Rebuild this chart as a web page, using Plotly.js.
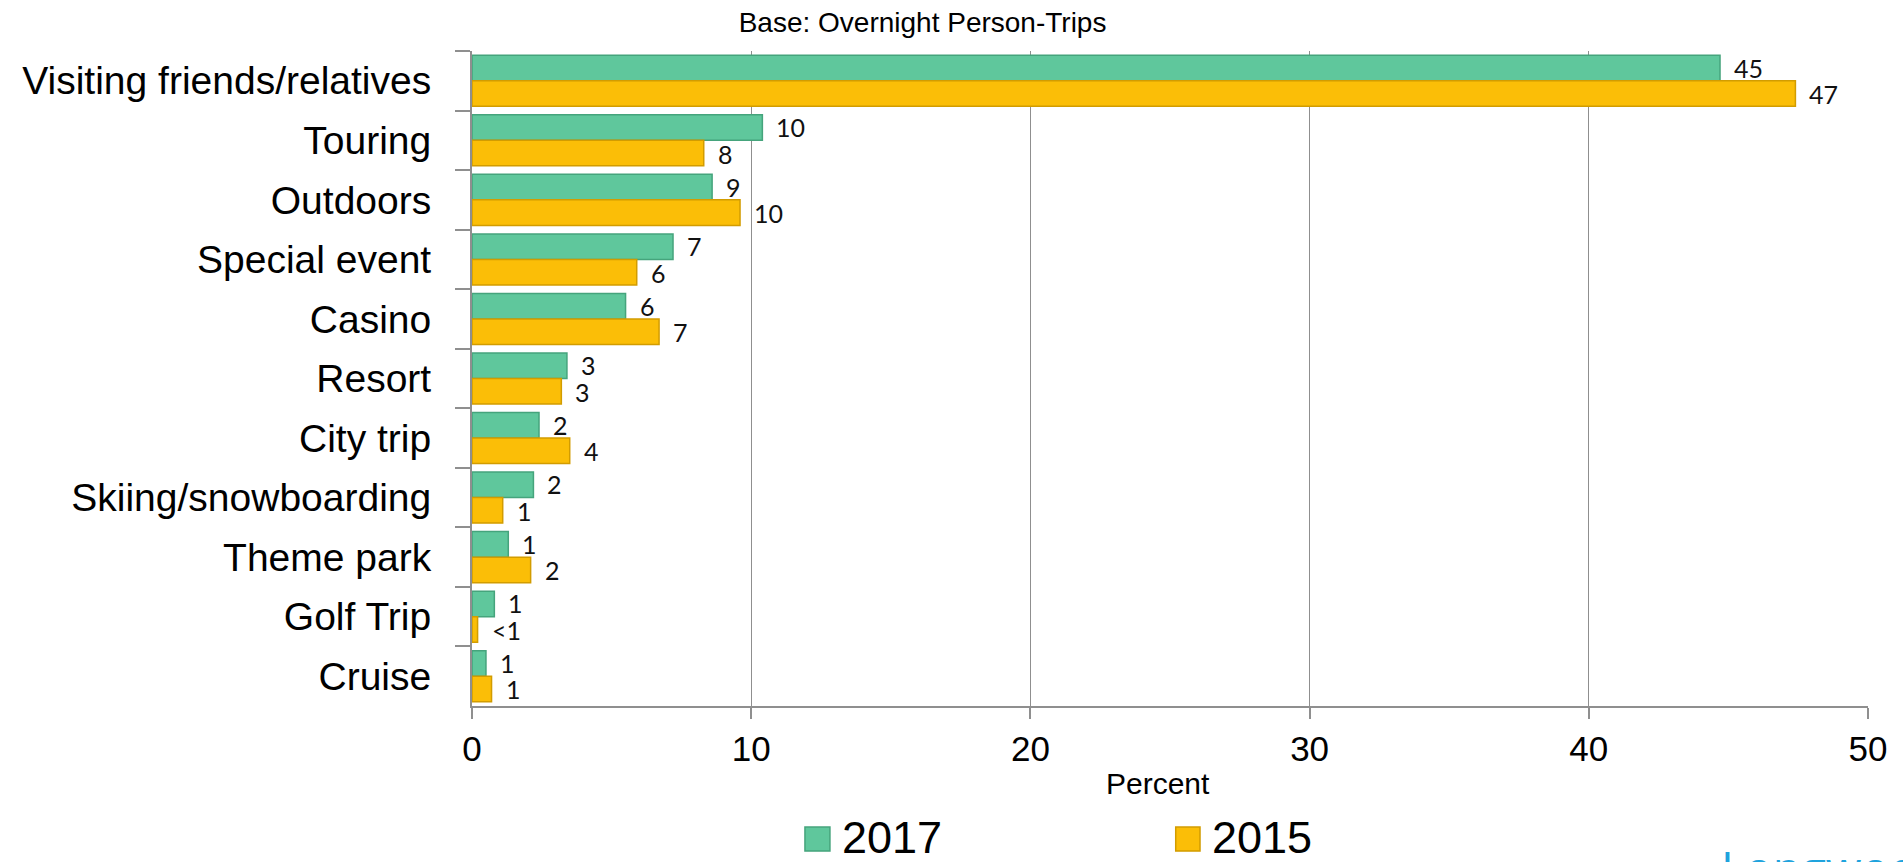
<!DOCTYPE html>
<html>
<head>
<meta charset="utf-8">
<script src="https://cdn.plot.ly/plotly-3.0.1.min.js"></script>
<style>
  html, body { margin: 0; padding: 0; background: #ffffff; }
  #chart { width: 1903px; height: 862px; }
</style>
</head>
<body>
<div id="chart"></div>
<script>
// ---- Data ----
var categories = [
  "Visiting friends/relatives", "Touring", "Outdoors", "Special event", "Casino",
  "Resort", "City trip", "Skiing/snowboarding", "Theme park", "Golf Trip", "Cruise"
];
var values2017 = [44.7, 10.4, 8.6, 7.2, 5.5, 3.4, 2.4, 2.2, 1.3, 0.8, 0.5];
var values2015 = [47.4, 8.3, 9.6, 5.9, 6.7, 3.2, 3.5, 1.1, 2.1, 0.2, 0.7];
var labels2017 = ["45", "10", "9", "7", "6", "3", "2", "2", "1", "1", "1"];
var labels2015 = ["47", "8", "10", "6", "7", "3", "4", "1", "2", "<1", "1"];
var seriesNames = ["2017", "2015"];
var xTicks = [0, 10, 20, 30, 40, 50];

var greenFill = "#5fc79c", greenEdge = "#45a47c";
var yellowFill = "#fbbe07", yellowEdge = "#d29c00";
var gridGray = "#8f8f8f";
var textFont = "Liberation Sans, Arial, sans-serif";
var labelFont = "Lato, Open Sans, sans-serif";

var traces = [
  {
    type: "bar", orientation: "h", name: seriesNames[0],
    y: categories, x: values2017,
    marker: { color: greenFill, line: { color: greenEdge, width: 1.5 } },
    showlegend: false, hoverinfo: "x+y"
  },
  {
    type: "bar", orientation: "h", name: seriesNames[1],
    y: categories, x: values2015,
    marker: { color: yellowFill, line: { color: yellowEdge, width: 1.5 } },
    showlegend: false, hoverinfo: "x+y"
  }
];

// Data labels placed just beyond each bar end
var annotations = [];
var barShift = 13.2;
for (var i = 0; i < categories.length; i++) {
  annotations.push({
    x: values2017[i], y: categories[i], xref: "x", yref: "y",
    text: labels2017[i], showarrow: false, xanchor: "left", yanchor: "middle",
    xshift: 13, yshift: barShift, borderpad: 0,
    font: { family: labelFont, size: 25, color: "#111111" }
  });
  annotations.push({
    x: values2015[i], y: categories[i], xref: "x", yref: "y",
    text: labels2015[i], showarrow: false, xanchor: "left", yanchor: "middle",
    xshift: 13, yshift: -barShift, borderpad: 0,
    font: { family: labelFont, size: 25, color: "#111111" }
  });
}

// Axis title placed as in the reference (slightly left of centre)
annotations.push({
  xref: "paper", yref: "paper", x: 0.4914, y: -0.118,
  xanchor: "center", yanchor: "middle", showarrow: false,
  text: "Percent", font: { family: textFont, size: 30, color: "#000000" }
});

// Custom legend (large swatches)
var legendItems = [
  { name: seriesNames[0], fill: greenFill, edge: greenEdge, x0: 0.2385, x1: 0.2564, tx: 0.2636 },
  { name: seriesNames[1], fill: yellowFill, edge: yellowEdge, x0: 0.5041, x1: 0.5215, tx: 0.5287 }
];
var shapes = [];
legendItems.forEach(function (it) {
  shapes.push({
    type: "rect", xref: "paper", yref: "paper",
    x0: it.x0, x1: it.x1, y0: -0.2215, y1: -0.1848,
    fillcolor: it.fill, line: { color: it.edge, width: 1.5 }
  });
  annotations.push({
    xref: "paper", yref: "paper", x: it.tx, y: -0.201,
    xanchor: "left", yanchor: "middle", showarrow: false,
    text: it.name, font: { family: textFont, size: 45, color: "#000000" }
  });
});

// Partially visible logo text at the bottom right
annotations.push({
  xref: "paper", yref: "paper", x: 0.893, y: -0.196,
  xanchor: "left", yanchor: "top", showarrow: false,
  text: "Longwoods", font: { family: "Open Sans, sans-serif", size: 46, color: "#1fa3dd" }
});

var layout = {
  width: 1903, height: 862,
  paper_bgcolor: "#ffffff", plot_bgcolor: "#ffffff",
  margin: { l: 472, r: 35, t: 51, b: 156 },
  barmode: "group", bargap: 0.143, bargroupgap: 0,
  showlegend: false,
  title: {
    text: "Base: Overnight Person-Trips",
    font: { family: textFont, size: 28, color: "#000000" },
    x: 0.4848, xanchor: "center", xref: "container",
    y: 0.974, yanchor: "middle", yref: "container"
  },
  xaxis: {
    range: [0, 50], tickvals: xTicks, ticktext: xTicks.map(String),
    showgrid: true, gridcolor: gridGray, gridwidth: 1.4,
    zeroline: false,
    showline: true, linecolor: gridGray, linewidth: 2,
    ticks: "outside", ticklen: 11, tickcolor: gridGray, tickwidth: 1.5,
    ticklabelstandoff: 0,
    tickfont: { family: textFont, size: 35, color: "#000000" },
    fixedrange: true
  },
  yaxis: {
    type: "category", autorange: "reversed",
    showgrid: false, zeroline: false,
    showline: true, linecolor: gridGray, linewidth: 2,
    ticks: "outside", tickson: "boundaries", ticklen: 15, tickcolor: gridGray, tickwidth: 1.5,
    ticklabelstandoff: 31,
    tickfont: { family: textFont, size: 39, color: "#000000" },
    fixedrange: true
  },
  annotations: annotations,
  shapes: shapes
};

Plotly.newPlot("chart", traces, layout, { displayModeBar: false, staticPlot: false });
</script>
</body>
</html>
